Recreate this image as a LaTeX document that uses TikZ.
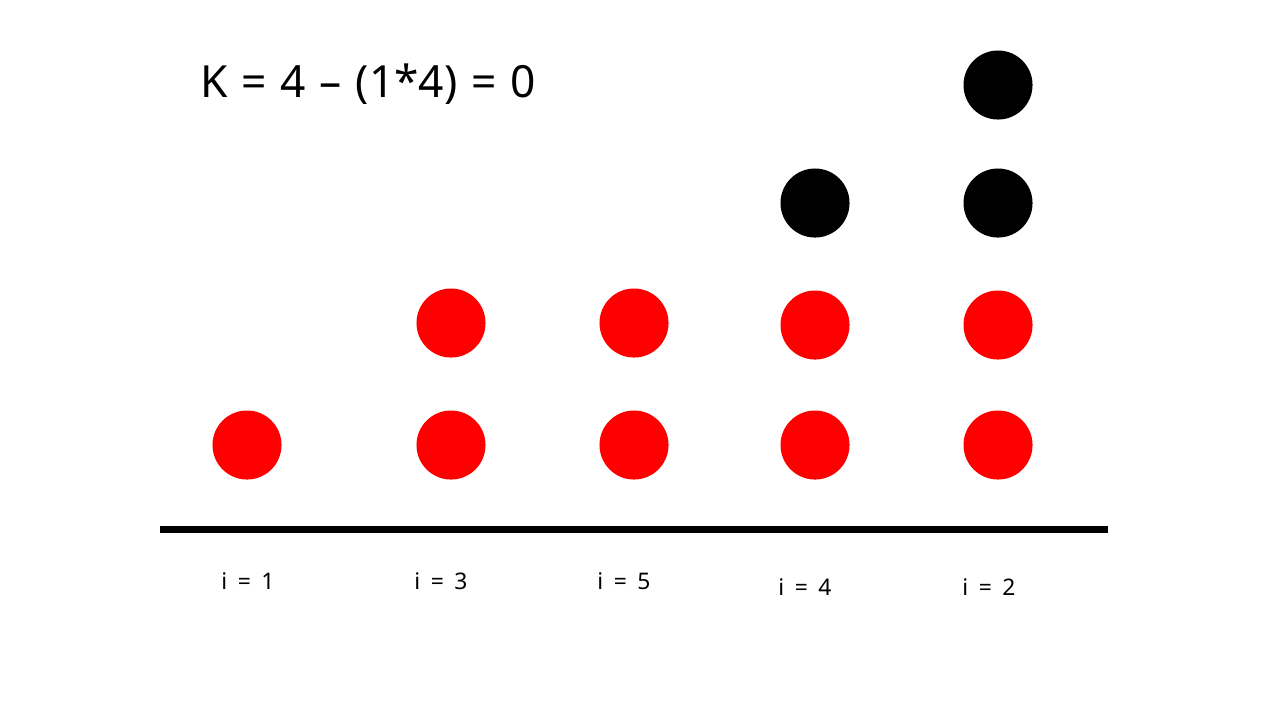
\documentclass[tikz,border=0pt]{standalone}
\usepackage{fontspec}
\setmainfont{Noto Sans}
\newcommand{\lblwide}{\fontsize{6.5pt}{7pt}\selectfont\spaceskip=0.46em plus 0pt minus 0pt\relax}
\newcommand{\titlewide}{\fontsize{12.6pt}{14pt}\selectfont\spaceskip=0.31em plus 0pt minus 0pt\relax}
\begin{document}
\begin{tikzpicture}[x=0.01cm,y=-0.01cm,
  dot/.style={circle,inner sep=0pt,minimum size=0.69cm,draw=none},
  reddot/.style={dot,fill=red},
  blackdot/.style={dot,fill=black},
  lbl/.style={inner sep=0pt},
  title/.style={inner sep=0pt,anchor=west}]
\useasboundingbox[fill=white] (0,0) rectangle (1280,720);
\node[title] (t) at (200,84) {\titlewide K = 4 -- (1*4) = 0};
% column 1
\node[reddot] (a1) at (247,445) {};
% column 2
\node[reddot] (b1) at (451,445) {};
\node[reddot] (b2) at (451,323) {};
% column 3
\node[reddot] (c1) at (634,445) {};
\node[reddot] (c2) at (634,323) {};
% column 4
\node[reddot] (d1) at (815,445) {};
\node[reddot] (d2) at (815,325) {};
\node[blackdot] (d3) at (815,203) {};
% column 5
\node[reddot] (e1) at (998,445) {};
\node[reddot] (e2) at (998,325) {};
\node[blackdot] (e3) at (998,203) {};
\node[blackdot] (e4) at (998,85) {};
% base line
\coordinate (lineL) at (160,529);
\coordinate (lineR) at (1108,529);
\draw[line width=2pt] (lineL) -- (lineR);
% labels
\node[lbl] (l1) at (248,581) {\lblwide i = 1};
\node[lbl] (l3) at (441,581) {\lblwide i = 3};
\node[lbl] (l5) at (624,581) {\lblwide i = 5};
\node[lbl] (l4) at (805,587) {\lblwide i = 4};
\node[lbl] (l2) at (989,587) {\lblwide i = 2};
\end{tikzpicture}
\end{document}
